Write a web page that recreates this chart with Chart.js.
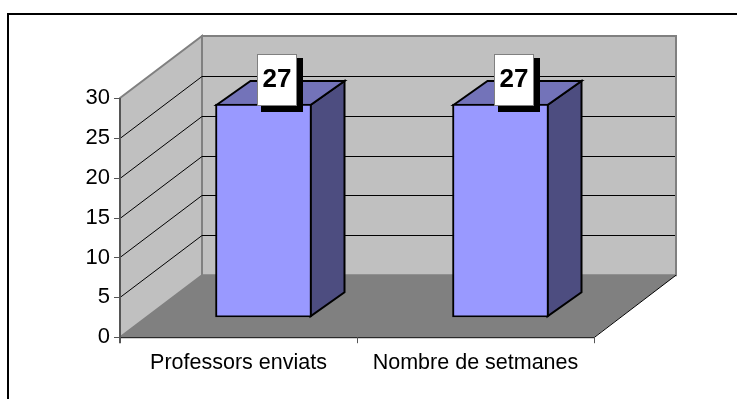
<!DOCTYPE html>
<html>
<head>
<meta charset="utf-8">
<script src="https://cdn.jsdelivr.net/npm/chart.js@4"></script>
<style>
  html, body { margin: 0; padding: 0; background: #fff; overflow: hidden; }
  #wrap { position: absolute; left: 0; top: 0; width: 737px; height: 399px; overflow: hidden; }
  #frame { position: absolute; left: 7px; top: 13px; width: 800px; height: 500px; border: 2px solid #000; }
</style>
</head>
<body>
<div id="wrap">
  <div id="frame"></div>
  <canvas id="chart" width="737" height="399"></canvas>
</div>
<script>
const categories = ['Professors enviats', 'Nombre de setmanes'];
const values = [27, 27];
const yTicks = [0, 5, 10, 15, 20, 25, 30];

// ── 3D look ──────────────────────────────────────────────────────────────────
const DEPTH_X = 82, DEPTH_Y = -62;      // front plane -> back wall
const BAR_DX = 25, BAR_DY = -20;        // bars stand inside the box
const BAR_DEPTH_X = 34, BAR_DEPTH_Y = -24;
const FONT = '"Liberation Sans", Arial, sans-serif';

function poly(ctx, pts, fill, stroke, lw) {
  ctx.beginPath();
  pts.forEach((p, i) => i ? ctx.lineTo(p[0], p[1]) : ctx.moveTo(p[0], p[1]));
  ctx.closePath();
  if (fill) { ctx.fillStyle = fill; ctx.fill(); }
  if (stroke) { ctx.strokeStyle = stroke; ctx.lineWidth = lw; ctx.stroke(); }
}

const box3d = {
  id: 'box3d',
  beforeDatasetsDraw(chart) {
    const { ctx, scales: { x, y } } = chart;
    const l = x.left, r = x.right, t = y.getPixelForValue(30), b = y.getPixelForValue(0);
    const bl = l + DEPTH_X, br = r + DEPTH_X, bt = t + DEPTH_Y, bb = b + DEPTH_Y;
    ctx.save();
    // walls and floor
    poly(ctx, [[bl, bt], [br, bt], [br, bb], [bl, bb]], '#c0c0c0', '#808080', 2);
    poly(ctx, [[l, t], [bl, bt], [bl, bb], [l, b]], '#c0c0c0', '#808080', 2);
    poly(ctx, [[l, b], [bl, bb], [br, bb], [r, b]], '#808080', null, 0);
    // gridlines run along the side wall and across the back
    ctx.strokeStyle = '#000';
    ctx.lineWidth = 1;
    yTicks.slice(1, -1).forEach(v => {
      const py = Math.round(y.getPixelForValue(v)) + 0.5;
      ctx.beginPath();
      ctx.moveTo(l, py);
      ctx.lineTo(bl, py + DEPTH_Y);
      ctx.lineTo(br - 1, py + DEPTH_Y);
      ctx.stroke();
    });
    // floor front and right edges
    ctx.beginPath();
    ctx.moveTo(l, b + 0.5);
    ctx.lineTo(r, b + 0.5);
    ctx.lineTo(br, bb);
    ctx.stroke();
    // y axis line and ticks
    ctx.strokeStyle = '#555';
    ctx.lineWidth = 2;
    ctx.beginPath();
    ctx.moveTo(l, t);
    ctx.lineTo(l, b + 6);
    ctx.stroke();
    ctx.lineWidth = 1;
    ctx.beginPath();
    yTicks.forEach(v => {
      const py = Math.round(y.getPixelForValue(v)) + 0.5;
      ctx.moveTo(l - 6, py);
      ctx.lineTo(l, py);
    });
    // x axis ticks
    [r, (l + r) / 2].forEach(px => {
      ctx.moveTo(Math.round(px) + 0.5, b);
      ctx.lineTo(Math.round(px) + 0.5, b + 6);
    });
    ctx.stroke();
    ctx.restore();

    // side and top of the bars, front faces come from the library
    ctx.save();
    ctx.translate(BAR_DX, BAR_DY);
    chart.getDatasetMeta(0).data.forEach(bar => {
      const left = bar.x - bar.width / 2 + 1, right = bar.x + bar.width / 2 - 1;
      const top = bar.y + 1, base = bar.base - 1;
      poly(ctx, [[right, top], [right + BAR_DEPTH_X, top + BAR_DEPTH_Y],
        [right + BAR_DEPTH_X, base + BAR_DEPTH_Y], [right, base]], '#4d4d80', '#000', 2);
      poly(ctx, [[left, top], [left + BAR_DEPTH_X, top + BAR_DEPTH_Y],
        [right + BAR_DEPTH_X, top + BAR_DEPTH_Y], [right, top]], '#7373b9', '#000', 2);
    });
    ctx.restore();
    ctx.save();
    ctx.translate(BAR_DX, BAR_DY);
  },
  afterDatasetsDraw(chart) {
    const { ctx } = chart;
    ctx.restore();
    // value labels in boxes with a hard shadow
    ctx.save();
    chart.getDatasetMeta(0).data.forEach((bar, i) => {
      const cx = Math.round(bar.x) + BAR_DX + 13, cy = 80;
      ctx.fillStyle = '#000';
      ctx.fillRect(cx - 16, cy - 22, 42, 54);
      ctx.fillStyle = '#fff';
      ctx.fillRect(cx - 20, cy - 26, 40, 52);
      ctx.strokeStyle = '#808080';
      ctx.lineWidth = 1;
      ctx.strokeRect(cx - 19.5, cy - 25.5, 39, 51);
      ctx.fillStyle = '#000';
      ctx.font = 'bold 26px ' + FONT;
      ctx.textAlign = 'center';
      ctx.textBaseline = 'middle';
      ctx.fillText(String(values[i]), cx, cy);
    });
    ctx.restore();
  }
};

new Chart(document.getElementById('chart'), {
  type: 'bar',
  data: {
    labels: categories,
    datasets: [{
      data: values,
      yAxisID: 'yBars',
      backgroundColor: '#9999ff',
      borderColor: '#000',
      borderWidth: 2,
      borderSkipped: false,
      barThickness: 96
    }]
  },
  options: {
    responsive: false,
    animation: false,
    layout: { padding: { left: 120, right: 143, top: 98, bottom: 18 } },
    plugins: { legend: { display: false }, tooltip: { enabled: false } },
    scales: {
      x: {
        border: { display: false },
        grid: { display: false },
        ticks: { color: '#000', font: { family: FONT, size: 21.5 }, padding: 5, maxRotation: 0, autoSkip: false }
      },
      y: {
        min: 0, max: 30,
        position: 'left',
        afterFit(s) { s.width = 0; },
        border: { display: false },
        grid: { display: false },
        ticks: { display: false, stepSize: 5 }
      },
      yBars: { min: 0, max: 30.3, display: false }
    }
  },
  plugins: [box3d, {
    id: 'yLabels',
    afterDraw(chart) {
      const { ctx, scales: { x, y } } = chart;
      ctx.save();
      ctx.fillStyle = '#000';
      ctx.font = '22px ' + FONT;
      ctx.textAlign = 'right';
      ctx.textBaseline = 'middle';
      yTicks.forEach(v => ctx.fillText(String(v), x.left - 10, y.getPixelForValue(v)));
      ctx.restore();
    }
  }]
});
</script>
</body>
</html>
